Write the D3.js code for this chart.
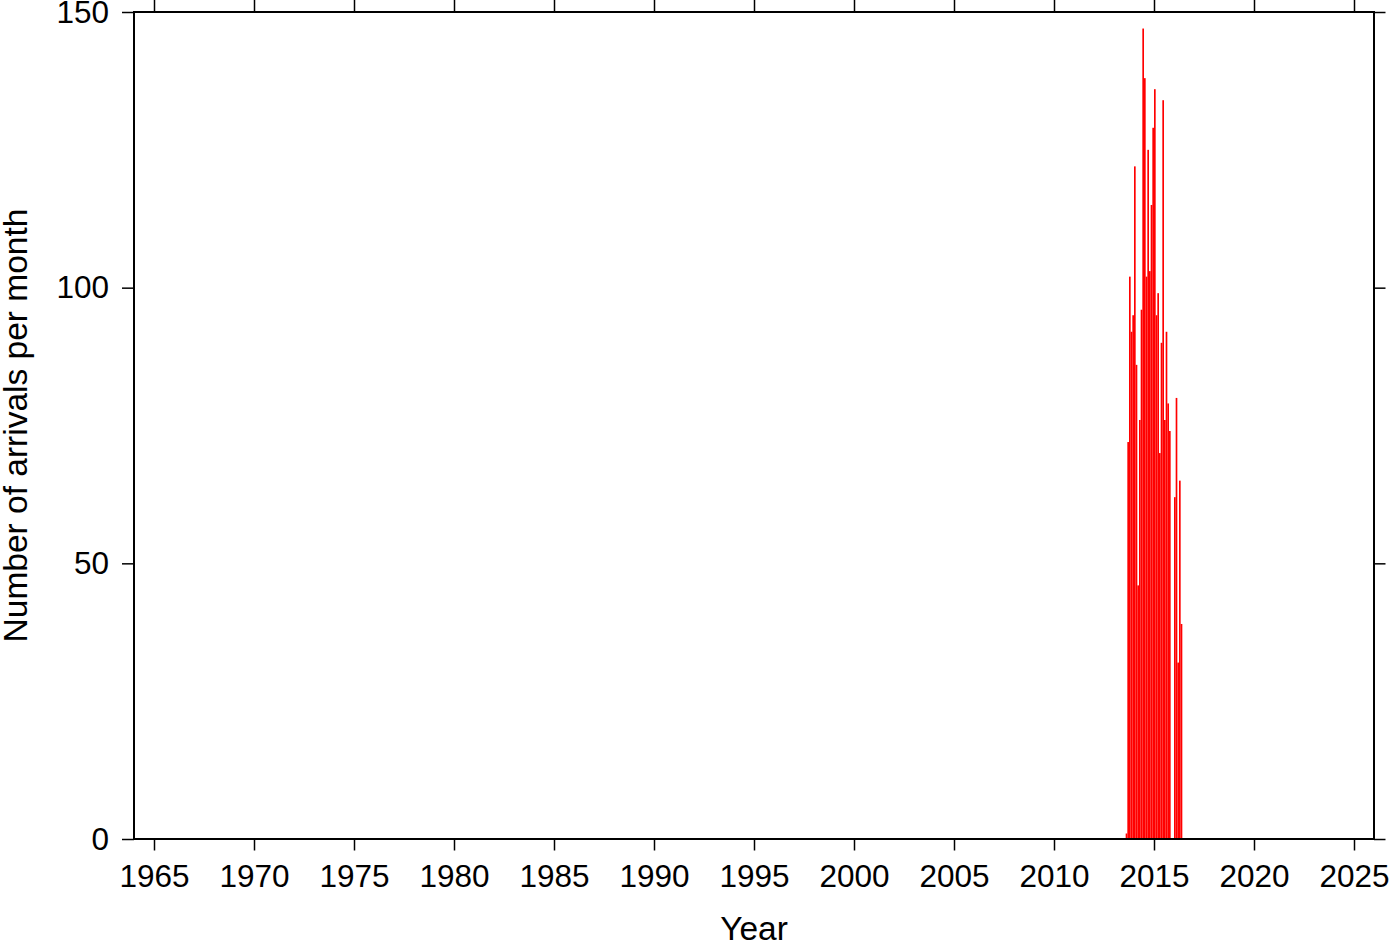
<!DOCTYPE html>
<html>
<head>
<meta charset="utf-8">
<script src="https://cdn.jsdelivr.net/npm/d3@7"></script>
<style>
  html, body { margin: 0; padding: 0; background: #fff; }
  svg { display: block; }
  text { font-family: "Liberation Sans", Arial, Helvetica, sans-serif; fill: #000; }
</style>
</head>
<body>
<svg id="chart" width="1400" height="942"></svg>
<script>
// ---- data ----
const months = ["2013-08","2013-09","2013-10","2013-11","2013-12",
  "2014-01","2014-02","2014-03","2014-04","2014-05","2014-06","2014-07","2014-08","2014-09","2014-10","2014-11","2014-12",
  "2015-01","2015-02","2015-03","2015-04","2015-05","2015-06","2015-07","2015-08","2015-09","2015-10","2015-11","2015-12",
  "2016-01","2016-02","2016-03","2016-04","2016-05"];
const arrivals = [1, 72, 102, 92, 95,
  122, 86, 46, 76, 96, 147, 138, 102, 125, 103, 115, 129,
  136, 95, 99, 70, 90, 134, 76, 92, 79, 74, 0, 0,
  62, 80, 32, 65, 39];
const xTicks = [1965,1970,1975,1980,1985,1990,1995,2000,2005,2010,2015,2020,2025];
const yTicks = [0, 50, 100, 150];
const xDomain = [1964, 2026];
const yDomain = [0, 150];

// ---- layout ----
const L = 134, R = 1374, T = 12, B = 839;
const svg = d3.select("#chart");
const x = d3.scaleLinear().domain(xDomain).range([L, R]);
const y = d3.scaleLinear().domain(yDomain).range([B, T]);

const monthStart = m => { const [yy, mm] = m.split("-").map(Number); return yy + (mm - 1) / 12; };

// bars
svg.append("g").selectAll("rect")
  .data(months.map((m, i) => ({ t: monthStart(m), v: arrivals[i] })))
  .join("rect")
  .attr("x", d => x(d.t))
  .attr("width", d => x(d.t + 1/12) - x(d.t))
  .attr("y", d => y(d.v))
  .attr("height", d => y(0) - y(d.v))
  .attr("fill", "#ff0000");

const fs = 31.5, tfs = 33.5;
function styleAxis(g) {
  g.select(".domain").remove();
  g.selectAll(".tick line").attr("stroke", "#000").attr("stroke-width", 1.5);
  g.selectAll(".tick text").attr("font-size", fs).attr("font-family", "Liberation Sans, Arial, sans-serif").attr("fill", "#000");
}

// bottom axis
svg.append("g").attr("transform", `translate(0,${B})`)
  .call(d3.axisBottom(x).tickValues(xTicks).tickFormat(d3.format("d")).tickSize(11.5).tickPadding(14))
  .call(styleAxis);
// top axis (ticks only)
svg.append("g").attr("transform", `translate(0,${T})`)
  .call(d3.axisTop(x).tickValues(xTicks).tickFormat("").tickSize(12))
  .call(styleAxis);
// left axis
svg.append("g").attr("transform", `translate(${L},0)`)
  .call(d3.axisLeft(y).tickValues(yTicks).tickFormat(d3.format("d")).tickSize(12).tickPadding(13))
  .call(styleAxis);
// right axis (ticks only)
svg.append("g").attr("transform", `translate(${R},0)`)
  .call(d3.axisRight(y).tickValues(yTicks).tickFormat("").tickSize(11.5))
  .call(styleAxis);

// frame
svg.append("rect")
  .attr("x", L).attr("y", T).attr("width", R - L).attr("height", B - T)
  .attr("fill", "none").attr("stroke", "#000").attr("stroke-width", 2);

// titles
svg.append("text")
  .attr("x", (L + R) / 2).attr("y", 940)
  .attr("text-anchor", "middle").attr("font-size", tfs)
  .text("Year");
svg.append("text")
  .attr("transform", `translate(27,${(T + B) / 2}) rotate(-90)`)
  .attr("text-anchor", "middle").attr("font-size", tfs)
  .text("Number of arrivals per month");
</script>
</body>
</html>
